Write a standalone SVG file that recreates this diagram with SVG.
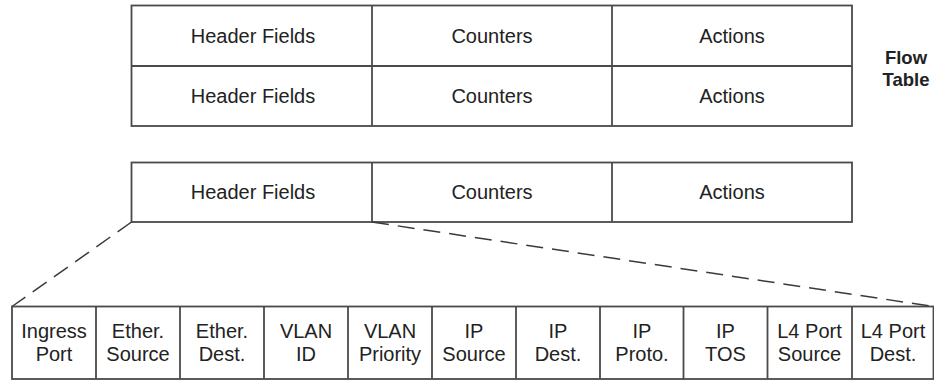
<svg xmlns="http://www.w3.org/2000/svg" width="934" height="381" viewBox="0 0 934 381">
<style>
.box{fill:#fff;stroke:#4a4a4a;stroke-width:1.8}
.ln{stroke:#4a4a4a;stroke-width:1.8;fill:none}
.dash{stroke:#3a3a3a;stroke-width:1.5;fill:none;stroke-dasharray:17 9}
text{font-family:"Liberation Sans",Arial,sans-serif;font-size:20px;fill:#222;text-anchor:middle}
.b{font-weight:bold;font-size:18.5px}
</style>
<rect width="934" height="381" fill="#fff"/>
<g id="flow-table">
  <rect class="box" x="131.5" y="5.5" width="720.5" height="120.5"/>
  <line class="ln" x1="131.5" y1="66" x2="852" y2="66"/>
  <line class="ln" x1="372" y1="5.5" x2="372" y2="126"/>
  <line class="ln" x1="612" y1="5.5" x2="612" y2="126"/>
  <text x="253" y="42.5">Header Fields</text>
  <text x="492" y="42.5">Counters</text>
  <text x="732" y="42.5">Actions</text>
  <text x="253" y="103">Header Fields</text>
  <text x="492" y="103">Counters</text>
  <text x="732" y="103">Actions</text>
</g>
<g id="flow-table-label">
  <text class="b" x="906" y="63.5">Flow</text>
  <text class="b" x="906" y="85.5">Table</text>
</g>
<g id="flow-entry">
  <rect class="box" x="131.5" y="162.5" width="720.5" height="59.5"/>
  <line class="ln" x1="372" y1="162.5" x2="372" y2="222"/>
  <line class="ln" x1="612" y1="162.5" x2="612" y2="222"/>
  <text x="253" y="199">Header Fields</text>
  <text x="492" y="199">Counters</text>
  <text x="732" y="199">Actions</text>
</g>
<g id="connectors">
  <line class="dash" x1="131.5" y1="222" x2="12" y2="306.5"/>
  <line class="dash" x1="372" y1="222" x2="933.5" y2="306.5"/>
</g>
<g id="header-fields">
  <rect class="box" x="12" y="306.5" width="921.5" height="72.5"/>
  <line class="ln" x1="96" y1="306.5" x2="96" y2="379"/>
  <line class="ln" x1="180" y1="306.5" x2="180" y2="379"/>
  <line class="ln" x1="264" y1="306.5" x2="264" y2="379"/>
  <line class="ln" x1="348" y1="306.5" x2="348" y2="379"/>
  <line class="ln" x1="432" y1="306.5" x2="432" y2="379"/>
  <line class="ln" x1="516" y1="306.5" x2="516" y2="379"/>
  <line class="ln" x1="600" y1="306.5" x2="600" y2="379"/>
  <line class="ln" x1="683.5" y1="306.5" x2="683.5" y2="379"/>
  <line class="ln" x1="767.5" y1="306.5" x2="767.5" y2="379"/>
  <line class="ln" x1="852" y1="306.5" x2="852" y2="379"/>
  <g id="f-ingress"><text x="54" y="338">Ingress</text><text x="54" y="361">Port</text></g>
  <g id="f-ether-src"><text x="138" y="338">Ether.</text><text x="138" y="361">Source</text></g>
  <g id="f-ether-dst"><text x="222" y="338">Ether.</text><text x="222" y="361">Dest.</text></g>
  <g id="f-vlan-id"><text x="306" y="338">VLAN</text><text x="306" y="361">ID</text></g>
  <g id="f-vlan-pri"><text x="390" y="338">VLAN</text><text x="390" y="361">Priority</text></g>
  <g id="f-ip-src"><text x="474" y="338">IP</text><text x="474" y="361">Source</text></g>
  <g id="f-ip-dst"><text x="558" y="338">IP</text><text x="558" y="361">Dest.</text></g>
  <g id="f-ip-proto"><text x="642" y="338">IP</text><text x="642" y="361">Proto.</text></g>
  <g id="f-ip-tos"><text x="725.5" y="338">IP</text><text x="725.5" y="361">TOS</text></g>
  <g id="f-l4-src"><text x="809.5" y="338">L4 Port</text><text x="809.5" y="361">Source</text></g>
  <g id="f-l4-dst"><text x="893" y="338">L4 Port</text><text x="893" y="361">Dest.</text></g>
</g>
</svg>
